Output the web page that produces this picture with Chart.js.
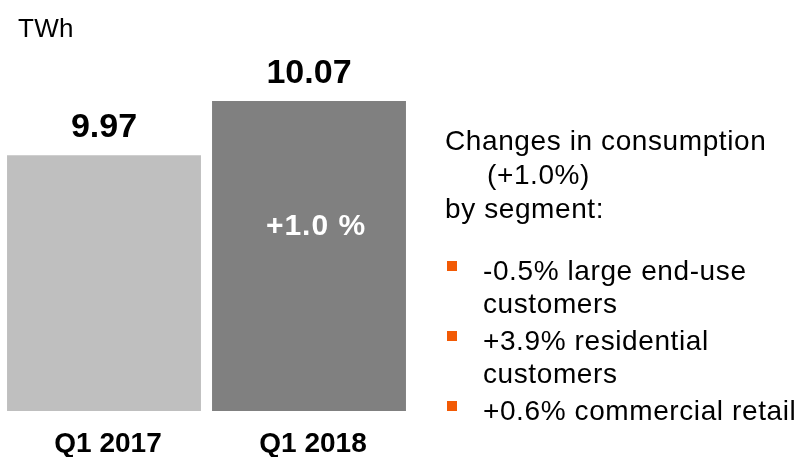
<!DOCTYPE html>
<html>
<head>
<meta charset="utf-8">
<script src="https://cdn.jsdelivr.net/npm/chart.js@4/dist/chart.umd.min.js"></script>
<style>
  html, body { margin: 0; padding: 0; background: #fff; overflow: hidden; }
  body { width: 801px; height: 457px; position: relative; font-family: "Liberation Sans", Arial, sans-serif; color: #000; }
  #wrap { position: absolute; left: 0; top: 0; width: 801px; height: 469px; }
  .txt { position: absolute; white-space: nowrap; font-size: 28px; letter-spacing: 0.6px; }
  .unit { left: 18px; top: 13px; font-size: 26px; line-height: 30px; letter-spacing: 0.3px; }
  .head { left: 445px; top: 124px; line-height: 34px; }
  .para { left: 483px; line-height: 33px; }
  .bullet { position: absolute; left: 447px; width: 10px; height: 10px; background: #f25a05; }
</style>
</head>
<body>
<div id="wrap"><canvas id="consumptionChart"></canvas></div>
<div class="txt unit">TWh</div>
<div class="txt head" id="header"></div>
<div id="segments"></div>
<script>
// values
const quarters = ['Q1 2017', 'Q1 2018'];
const consumption = [9.97, 10.07];
const barColours = ['#bfbfbf', '#808080'];
const growthLabel = '+1.0 %';
const headerLines = ['Changes in consumption', '(+1.0%)', 'by segment:'];
const headerIndent = [0, 42, 0];
const segmentLines = [
    ['-0.5% large end-use', 'customers'],
    ['+3.9% residential', 'customers'],
    ['+0.6% commercial retail']
];
const segmentTops = [254, 324, 394];

// text block on the right
document.getElementById('header').innerHTML = headerLines
    .map((l, idx) => `<div style="padding-left:${headerIndent[idx]}px">${l}</div>`).join('');

const segBox = document.getElementById('segments');
segmentLines.forEach((lines, idx) => {
    let p = document.createElement('div');
    p.className = 'txt para';
    p.style.top = segmentTops[idx] + 'px';
    p.innerHTML = lines.map(l => `<div>${l}</div>`).join('');
    segBox.appendChild(p);
    let b = document.createElement('div');
    b.className = 'bullet';
    b.style.top = (segmentTops[idx] + 7) + 'px';
    segBox.appendChild(b);
});

const valueLabels = {
    id: 'valueLabels',
    afterDatasetsDraw(chart) {
        const ctx = chart.ctx;
        const meta = chart.getDatasetMeta(0);
        ctx.save();
        ctx.textAlign = 'center';
        ctx.textBaseline = 'alphabetic';
        ctx.font = 'bold 34px "Liberation Sans", Arial, sans-serif';
        ctx.fillStyle = '#000';
        meta.data.forEach((bar, idx) => {
            ctx.fillText(consumption[idx].toFixed(2), bar.x, bar.y - 18);
        });
        // growth label inside the second bar
        const last = meta.data[meta.data.length - 1];
        ctx.font = 'bold 30px "Liberation Sans", Arial, sans-serif';
        ctx.letterSpacing = '1px';
        ctx.fillStyle = '#fff';
        ctx.fillText(growthLabel, last.x + 7, 235);
        ctx.restore();
    }
};

let consumptionChart = new Chart(
    document.getElementById('consumptionChart'),
    {
        type: 'bar',
        data: {
            labels: quarters,
            datasets: [{
                data: consumption,
                backgroundColor: barColours,
                borderWidth: 0,
                barPercentage: 0.946,
                categoryPercentage: 1
            }]
        },
        options: {
            responsive: true,
            maintainAspectRatio: false,
            animation: false,
            layout: { padding: { left: 1.5, right: 389.5, top: 3, bottom: 0 } },
            plugins: {
                legend: { display: false },
                tooltip: { enabled: false },
                title: { display: false }
            },
            scales: {
                x: {
                    grid: { display: false },
                    border: { display: false },
                    ticks: {
                        color: '#000',
                        padding: 11,
                        labelOffset: 4,
                        font: { family: '"Liberation Sans", Arial, sans-serif', size: 28, weight: 'bold', lineHeight: 1 }
                    }
                },
                y: {
                    display: false,
                    min: 9.5,
                    max: 10.25
                }
            }
        },
        plugins: [valueLabels]
    }
);
</script>
</body>
</html>
